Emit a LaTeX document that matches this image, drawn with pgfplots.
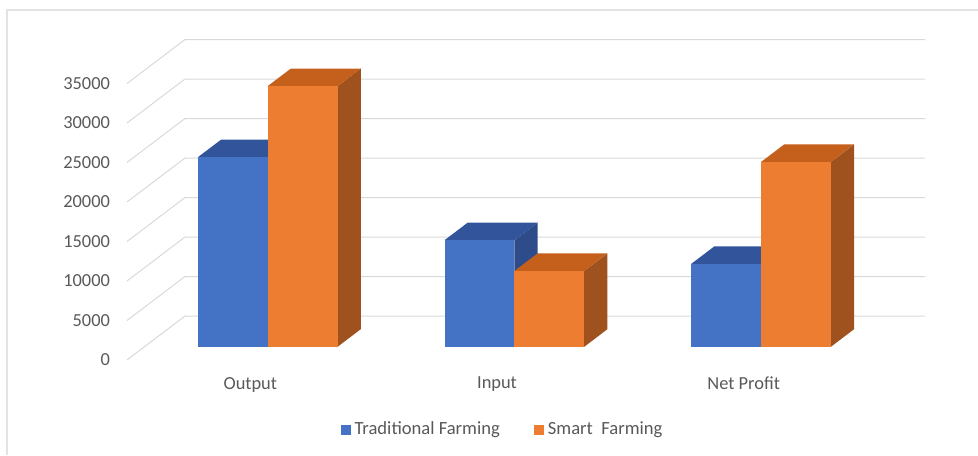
\documentclass[border=0pt]{standalone}
\usepackage{fontspec}
\setmainfont{Carlito}
\usepackage{pgfplots}
\pgfplotsset{compat=1.18}
\definecolor{blueF}{HTML}{4472C4}
\definecolor{blueT}{HTML}{32549A}
\definecolor{blueS}{HTML}{2E4C8A}
\definecolor{orangeF}{HTML}{ED7D31}
\definecolor{orangeT}{HTML}{C5601C}
\definecolor{orangeS}{HTML}{A0521E}
\definecolor{gridc}{HTML}{D9D9D9}
\definecolor{tickgray}{HTML}{595959}
\definecolor{framec}{HTML}{E3E3E3}
% #1 x left, #2 x right, #3 value, #4 front, #5 top, #6 side colours
\newcommand{\cuboid}[6]{%
  \pgfmathsetmacro{\xA}{#1+0.0705}%
  \pgfmathsetmacro{\xB}{#2+0.0705}%
  \pgfmathsetmacro{\xC}{#2+0.1646}%
  \pgfmathsetmacro{\xD}{#1+0.1646}%
  \edef\vF{\the\numexpr#3+1671\relax}%
  \edef\vB{\the\numexpr#3+3899\relax}%
  \addplot[fill=#6, draw=none, forget plot] coordinates {(\xB,1671) (\xC,3899) (\xC,\vB) (\xB,\vF)} -- cycle;
  \addplot[fill=#5, draw=none, forget plot] coordinates {(\xA,\vF) (\xB,\vF) (\xC,\vB) (\xD,\vB)} -- cycle;
  \addplot[fill=#4, draw=none, forget plot] coordinates {(\xA,1671) (\xB,1671) (\xB,\vF) (\xA,\vF)} -- cycle;
}
\begin{document}
\begin{tikzpicture}
\path[use as bounding box] (-63.5pt,-47.5pt) rectangle (425.5pt,180pt);
\draw[framec, line width=0.8pt] (-60pt,-47.5pt) -- (-60pt,175pt) -- (425.5pt,175pt);
\begin{axis}[
  at={(0pt,0pt)}, anchor=south west,
  scale only axis, width=399pt, height=160.25pt,
  xmin=0, xmax=3.2351, ymin=0, ymax=40570,
  clip=false,
  axis line style={draw=none},
  major tick length=0pt,
  xtick={0.5,1.5,2.5},
  xticklabels={Output, Input, Net Profit},
  ytick={0,5000,10000,15000,20000,25000,30000,35000},
  scaled y ticks=false,
  /pgf/number format/set thousands separator={},
  /pgf/number format/assume math mode=true,
  every tick label/.append style={font=\fontsize{9.2}{10}\selectfont, text=tickgray},
  yticklabel style={xshift=-5pt},
  xticklabel style={yshift=-5pt},
  legend columns=2,
  legend style={at={(0.4718,-0.2184)}, anchor=center, draw=none, fill=none,
    font=\fontsize{9.3}{10}\selectfont, text=tickgray,
    /tikz/every even column/.append style={column sep=15pt},
    inner sep=0pt},
  legend image code/.code={\path[#1] (0pt,-2.5pt) rectangle (5pt,2.5pt);},
]
\pgfplotsinvokeforeach{0,5000,10000,15000,20000,25000,30000,35000}{
  \draw[gridc, line width=0.5pt] (axis cs:0,#1) -- (axis cs:0.2351,{#1+5570}) -- (axis cs:3.2351,{#1+5570});
}
\addlegendimage{fill=blueF, draw=none}
\addlegendentry{Traditional Farming}
\addlegendimage{fill=orangeF, draw=none}
\addlegendentry{Smart\ \ Farming}
% Output
\cuboid{0.217}{0.5}{24000}{blueF}{blueT}{blueS}
\cuboid{0.5}{0.783}{33000}{orangeF}{orangeT}{orangeS}
% Input
\cuboid{1.217}{1.5}{13500}{blueF}{blueT}{blueS}
\cuboid{1.5}{1.783}{9600}{orangeF}{orangeT}{orangeS}
% Net Profit
\cuboid{2.217}{2.5}{10500}{blueF}{blueT}{blueS}
\cuboid{2.5}{2.783}{23400}{orangeF}{orangeT}{orangeS}
\end{axis}
\end{tikzpicture}
\end{document}
